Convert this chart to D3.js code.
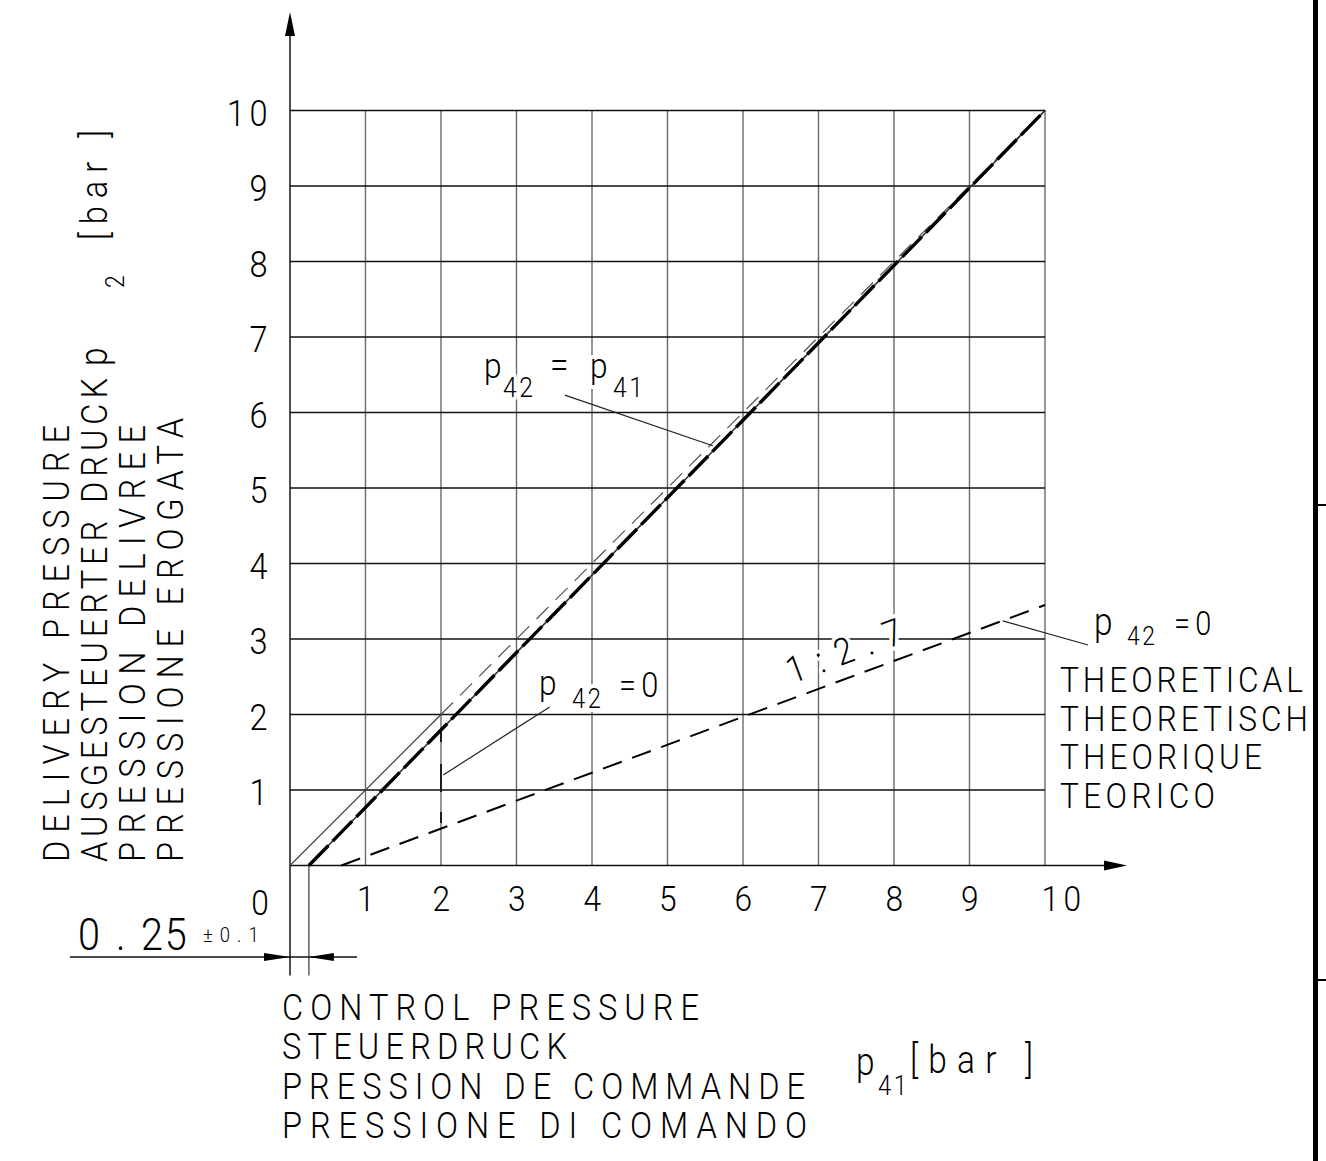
<!DOCTYPE html>
<html><head><meta charset="utf-8">
<script src="https://cdn.jsdelivr.net/npm/d3@7"></script>
<style>html,body{margin:0;padding:0;background:#fff;} svg{display:block;}</style>
</head><body>
<svg id="c" width="1326" height="1161"></svg>
<script>
// ---------- data ----------
const X_TICKS = [1, 2, 3, 4, 5, 6, 7, 8, 9, 10];
const Y_TICKS = [1, 2, 3, 4, 5, 6, 7, 8, 9, 10];
const IDEAL_LINE = [[0, 0], [10, 10]];            // p42 = p41 reference, y = x
const IDEAL_SOLID_UNTIL = 2;                        // solid until x = 2, dashed above
const MEASURED_LINE = [[0.25, 0], [10, 10]];       // p42 = p41 characteristic
const THEORETICAL_ZERO = [[0.68, 0], [10, 3.45]];  // p42 = 0 theoretical, ratio 1:2.7
const MARKER_X = 2;                                  // p42 = 0 measured marker
const MARKER_RANGE = [1.78, 0.47];
const OFFSET_VALUE = 0.25;                           // 0.25 ± 0.1 dimension
const Y_TITLE = ["DELIVERY PRESSURE", "AUSGESTEUERTER DRUCK", "PRESSION DELIVREE", "PRESSIONE EROGATA"];
const X_TITLE = ["CONTROL PRESSURE", "STEUERDRUCK", "PRESSION DE COMMANDE", "PRESSIONE DI COMANDO"];
const THEO_LABEL = ["THEORETICAL", "THEORETISCH", "THEORIQUE", "TEORICO"];

// ---------- setup ----------
const FONT = "Roboto,'DejaVu Sans Condensed',sans-serif";
const WEIGHT = 300;
const SX = 0.88;   // horizontal compression to mimic the narrow CAD lettering
const svg = d3.select('#c');
svg.append('rect').attr('width', 1326).attr('height', 1161).attr('fill', '#fff');
const x = d3.scaleLinear().domain([0, 10]).range([290, 1045]);
const y = d3.scaleLinear().domain([0, 10]).range([865.5, 110.5]);
const line = d3.line().x(d => x(d[0])).y(d => y(d[1]));

function fit(sel, target) {            // spread letters so that the run spans `target` (local units)
  const s = sel.text();
  const nat = sel.node().getComputedTextLength();
  if (s.length > 1) sel.attr('letter-spacing', (target - nat) / (s.length - 1));
}
function txt(g, s, px, py, size, opts = {}) {
  const t = g.append('text')
    .attr('transform', `translate(${px},${py})${opts.rot ? ` rotate(${opts.rot})` : ''} scale(${SX},1)`)
    .text(s).attr('font-family', FONT).attr('font-weight', WEIGHT).attr('font-size', size).attr('fill', '#000');
  if (opts.anchor) t.attr('text-anchor', opts.anchor);
  if (opts.ls) t.attr('letter-spacing', opts.ls);
  if (opts.len) fit(t, opts.len / SX);
  if (opts.halo) t.attr('stroke', '#fff').attr('stroke-width', 8).attr('paint-order', 'stroke').attr('stroke-linejoin', 'round');
  return t;
}
// multi-line block drawn as one text element
function block(g, lines, px, py, size, step, lens, rot) {
  const t = g.append('text')
    .attr('transform', `translate(${px},${py})${rot ? ` rotate(${rot})` : ''} scale(${SX},1)`)
    .attr('font-family', FONT).attr('font-weight', WEIGHT).attr('font-size', size).attr('fill', '#000');
  lines.forEach((s, i) => {
    const ts = t.append('tspan').attr('x', 0).attr('y', i * step).text(s);
    fit(ts, lens[i] / SX);
  });
  return t;
}

// ---------- grid ----------
const grid = svg.append('g');
grid.selectAll('line.v').data(X_TICKS).join('line').attr('class', 'v')
  .attr('x1', d => x(d)).attr('x2', d => x(d)).attr('y1', y(0)).attr('y2', y(10))
  .attr('stroke', '#6a6a6a').attr('stroke-width', 1.4);
grid.selectAll('line.h').data(Y_TICKS).join('line').attr('class', 'h')
  .attr('x1', x(0)).attr('x2', x(10)).attr('y1', d => y(d)).attr('y2', d => y(d))
  .attr('stroke', '#111').attr('stroke-width', 1.3);

// ---------- axes ----------
const ax = svg.append('g');
ax.append('line').attr('x1', x(0)).attr('x2', x(0)).attr('y1', y(0) + 110).attr('y2', 34)
  .attr('stroke', '#222').attr('stroke-width', 1.6);
ax.append('path').attr('d', `M${x(0)},12 L${x(0) - 5},36 L${x(0) + 5},36 Z`).attr('fill', '#000');
ax.append('line').attr('x1', x(0)).attr('x2', 1106).attr('y1', y(0)).attr('y2', y(0))
  .attr('stroke', '#111').attr('stroke-width', 1.6);
ax.append('path').attr('d', `M1127,${y(0)} L1104,${y(0) - 5} L1104,${y(0) + 5} Z`).attr('fill', '#000');

// tick labels via d3 axes
const yAxis = svg.append('g').attr('transform', `translate(${x(0)},0)`)
  .call(d3.axisLeft(y).tickValues(Y_TICKS).tickSize(0).tickPadding(18));
yAxis.select('.domain').remove();
yAxis.selectAll('text').attr('font-family', FONT).attr('font-weight', WEIGHT).attr('font-size', 37)
  .attr('letter-spacing', 5).attr('x', -18 / SX).attr('transform', `scale(${SX},1)`)
  .attr('dy', '0.40em').attr('fill', '#000');
const xAxis = svg.append('g').attr('transform', `translate(0,${y(0)})`)
  .call(d3.axisBottom(x).tickValues(X_TICKS).tickSize(0).tickPadding(20));
xAxis.select('.domain').remove();
xAxis.selectAll('text').attr('font-family', FONT).attr('font-weight', WEIGHT).attr('font-size', 36)
  .attr('letter-spacing', 5).attr('transform', `scale(${SX},1)`)
  .attr('fill', '#000').attr('x', d => (d === 10 ? 18 : 2) / SX);
txt(svg, '0', 260, 915, 36, { anchor: 'middle' });

// ---------- dimension 0.25 ± 0.1 ----------
const dim = svg.append('g');
dim.append('line').attr('x1', x(OFFSET_VALUE)).attr('x2', x(OFFSET_VALUE)).attr('y1', y(0)).attr('y2', y(0) + 110)
  .attr('stroke', '#555').attr('stroke-width', 1.4);
const dimY = 957;
dim.append('line').attr('x1', 70).attr('x2', 357).attr('y1', dimY).attr('y2', dimY).attr('stroke', '#111').attr('stroke-width', 1.4);
dim.append('path').attr('d', `M${x(0)},${dimY} L${x(0) - 26},${dimY - 4} L${x(0) - 26},${dimY + 4} Z`).attr('fill', '#000');
dim.append('path').attr('d', `M${x(OFFSET_VALUE)},${dimY} L${x(OFFSET_VALUE) + 25},${dimY - 4} L${x(OFFSET_VALUE) + 25},${dimY + 4} Z`).attr('fill', '#000');
const dt = dim.append('text').attr('transform', `translate(78,950) scale(${SX},1)`)
  .attr('font-family', FONT).attr('font-weight', WEIGHT).attr('font-size', 45).attr('fill', '#000');
dt.append('tspan').attr('x', 0).text('0');
dt.append('tspan').attr('x', 38 / SX).text('.');
dt.append('tspan').attr('x', 63 / SX).attr('letter-spacing', 2).text('25');
dt.append('tspan').attr('x', 125 / SX).attr('y', -8).attr('font-size', 21).attr('letter-spacing', 8).text('±0.1');

// ---------- labels with halos (before curves) ----------
const lab = svg.append('g');
function multi(ax0, ay0, runs) {
  runs.forEach(r => txt(lab, r[0], ax0 + r[1], ay0 + r[2], r[3], { halo: true, ls: r[4] || 0 }));
}
// p42 = p41
multi(484, 378, [['p', 0, 0, 36], ['42', 19, 19, 28, 3], ['=', 66, 0, 38], ['p', 106, 0, 36], ['41', 129, 19, 28, 3]]);
// p42 = 0 (measured)
multi(539, 695, [['p', 0, 0, 36], ['42', 33, 13, 27, 3], ['=0', 80, 2, 35, 6]]);
// p42 = 0 theoretical
multi(1094, 635, [['p', 0, 0, 38], ['42', 33, 10, 26, 3], ['=0', 80, 0, 33, 6]]);
// 1:2.7 ratio, rotated along theoretical line
const ang = -Math.atan((y(0) - y(1)) / (x(2.7) - x(0))) * 180 / Math.PI;
txt(lab, '1:2.7', 792, 684, 37, { rot: ang, len: 121, halo: true });

// ---------- curves ----------
const cv = svg.append('g').attr('fill', 'none');
cv.append('path').attr('d', line([IDEAL_LINE[0], [IDEAL_SOLID_UNTIL, IDEAL_SOLID_UNTIL]]))
  .attr('stroke', '#444').attr('stroke-width', 1.2);
cv.append('path').attr('d', line([[IDEAL_SOLID_UNTIL, IDEAL_SOLID_UNTIL], IDEAL_LINE[1]]))
  .attr('stroke', '#555').attr('stroke-width', 1.2).attr('stroke-dasharray', '17,10');
cv.append('path').attr('d', line(MEASURED_LINE)).attr('stroke', '#333').attr('stroke-width', 1.6);
cv.append('path').attr('d', line(MEASURED_LINE)).attr('stroke', '#000').attr('stroke-width', 3.4)
  .attr('stroke-dasharray', '28,6');
cv.append('path').attr('d', line(THEORETICAL_ZERO)).attr('stroke', '#000').attr('stroke-width', 2)
  .attr('stroke-dasharray', '20,11');
cv.append('line').attr('x1', x(MARKER_X)).attr('x2', x(MARKER_X))
  .attr('y1', y(MARKER_RANGE[0])).attr('y2', y(MARKER_RANGE[1]))
  .attr('stroke', '#111').attr('stroke-width', 1.8).attr('stroke-dasharray', '11,22,28,20');

// leader lines
const leaders = [
  [[3.64, 6.23], [5.60, 5.56]],
  [[3.44, 2.10], [2.03, 1.20]],
  [[10.57, 2.92], [9.44, 3.24]]
];
cv.selectAll('path.lead').data(leaders).join('path').attr('class', 'lead').attr('d', d => line(d))
  .attr('stroke', '#222').attr('stroke-width', 1.2);

// ---------- titles ----------
const tt = svg.append('g');
// y-axis title: one rotated block (local +x = up, local +y = right)
const yt = block(tt, Y_TITLE, 69, 862, 37, 38, [437, 484, 437, 444], -90);
yt.append('tspan').attr('x', 496 / SX).attr('y', 38).attr('font-size', 38).text('p');
yt.append('tspan').attr('x', 574 / SX).attr('y', 55).attr('font-size', 26).text('2');
const bar = yt.append('tspan').attr('x', 622 / SX).attr('y', 38).text('[bar ]');
fit(bar, 110 / SX);

// x-axis title
block(tt, X_TITLE, 282, 1020, 37, 39.3, [417, 285, 523, 525]);
const pu = tt.append('text').attr('transform', `translate(856,1075) scale(${SX},1)`)
  .attr('font-family', FONT).attr('font-weight', WEIGHT).attr('font-size', 38).attr('fill', '#000');
pu.append('tspan').attr('x', 0).attr('y', 0).text('p');
pu.append('tspan').attr('x', 22 / SX).attr('y', 20).attr('font-size', 27).attr('letter-spacing', 3).text('41');
const pub = pu.append('tspan').attr('x', 54 / SX).attr('y', -2).text('[bar ]');
fit(pub, 123 / SX);

// theoretical label block
block(tt, THEO_LABEL, 1060, 692, 36, 38.6, [243, 248, 202, 155]);

// ---------- right frame ----------
svg.append('rect').attr('x', 1313).attr('y', 0).attr('width', 5).attr('height', 1161).attr('fill', '#000');
svg.selectAll('line.fr').data([505, 980]).join('line').attr('class', 'fr')
  .attr('x1', 1316).attr('x2', 1326).attr('y1', d => d).attr('y2', d => d).attr('stroke', '#000').attr('stroke-width', 2);
</script>
</body></html>
